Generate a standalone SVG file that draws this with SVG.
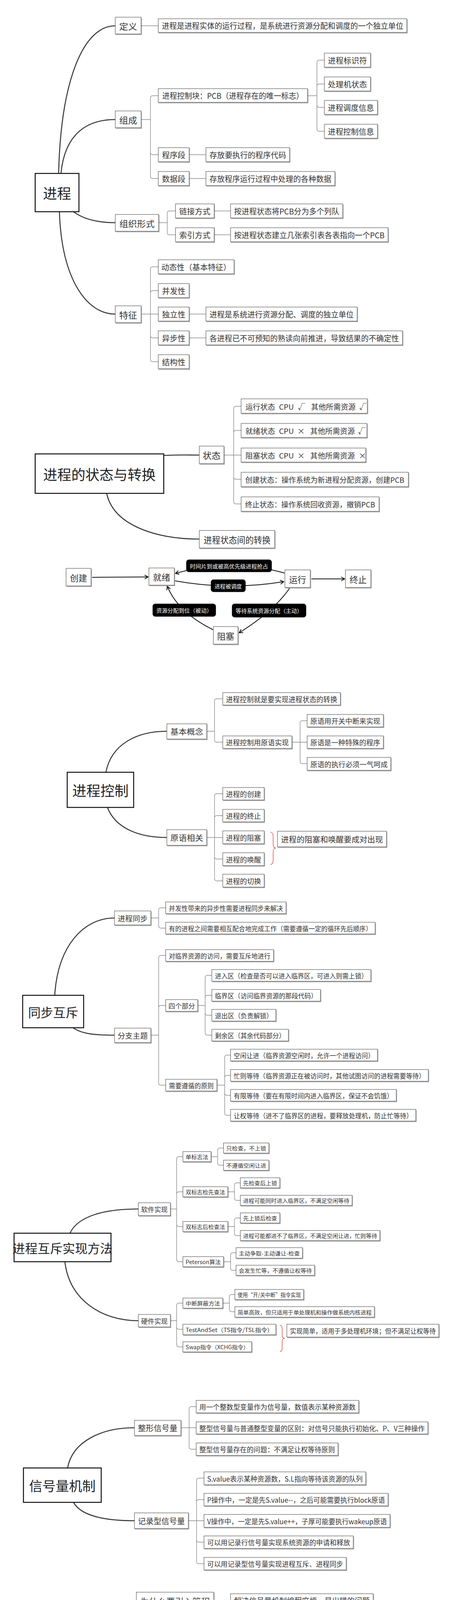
<svg xmlns="http://www.w3.org/2000/svg" width="1172" height="6309" viewBox="0 0 1172 6309">
<defs>
<style>
text{font-family:"Noto Sans CJK SC","Noto Sans",sans-serif;fill:#333;text-anchor:middle;dominant-baseline:central}
.n rect{fill:#fff;stroke:#4a4a4a;stroke-width:1.1;filter:url(#sh)}
.r rect{fill:#fff;stroke:#111;stroke-width:2.5}
.r text{fill:#222}
.lb rect{fill:#000;stroke:#000}
.lb text{fill:#fff}
.st{text-anchor:start}
.main{fill:none;stroke:#3a3a3a;stroke-width:2.6;stroke-linecap:round}
.sub{fill:none;stroke:#8c8c8c;stroke-width:1.4}
.arr{fill:none;stroke:#111;stroke-width:2;marker-end:url(#ah)}
.brace{fill:none;stroke:#d22;stroke-width:1.2}
.f14{font-size:14px}.f16{font-size:16px}.f17{font-size:17px}.f18{font-size:18px}.f19{font-size:19px}.f20{font-size:20px}.f22{font-size:22px}.f23{font-size:23px}.f30{font-size:30px}.f32{font-size:32px}.f34{font-size:34px}.f36{font-size:36px}
</style>
<filter id="sh" x="-5%" y="-10%" width="115%" height="140%"><feDropShadow dx="1.5" dy="2" stdDeviation="0.6" flood-color="#777" flood-opacity="0.6"/></filter>
<marker id="ah" markerWidth="12" markerHeight="12" refX="10" refY="6" orient="auto" markerUnits="userSpaceOnUse"><path d="M1,1 L10,6 L1,11" fill="none" stroke="#111" stroke-width="2"/></marker>
</defs>
<rect width="1172" height="6309" fill="#fff"/>

<g id="connectors">
<path class="main" d="M150,444C156,200 215,66 295,66"/>
<path class="main" d="M156,444C166,340 225,306 295,306"/>
<path class="main" d="M188,542C215,562 250,570 295,570"/>
<path class="main" d="M152,542C158,720 225,805 295,804"/>
<path class="sub" d="M361,66H405"/>
<path class="sub" d="M361,306H385 M385,306V251Q385,245 391,245H405 M385,306V390Q385,396 391,396H405 M385,306V451Q385,457 391,457H405"/>
<path class="sub" d="M787,245H811 M811,245V160Q811,154 817,154H830 M811,245V221Q811,215 817,215H830 M811,245V269Q811,275 817,275H830 M811,245V330Q811,336 817,336H830"/>
<path class="sub" d="M484,396H527 M484,457H527"/>
<path class="sub" d="M406,570H428 M428,570V546Q428,540 434,540H449 M428,570V595Q428,601 434,601H449 M548,540H590 M548,601H590"/>
<path class="sub" d="M361,804H385 M385,804V689Q385,683 391,683H405 M385,804V750Q385,744 391,744H405 M385,804H405 M385,804V859Q385,865 391,865H405 M385,804V920Q385,926 391,926H405 M484,804H527 M484,865H527"/>

<path class="main" d="M419,1166C460,1164 480,1165 510,1165"/>
<path class="main" d="M273,1263C290,1345 400,1380 510,1380"/>
<path class="sub" d="M573,1165H617 M598,1165V1046Q598,1040 604,1040H617 M598,1165V1108Q598,1102 604,1102H617 M598,1165V1221Q598,1227 604,1227H617 M598,1165V1284Q598,1290 604,1290H617"/>

<path class="arr" d="M236,1478 L379,1477"/>
<path class="arr" d="M797,1482 L882,1482"/>
<path class="arr" d="M728,1467 Q588,1428 449,1468"/>
<path class="arr" d="M448,1487 Q588,1512 726,1489"/>
<path class="arr" d="M741,1506 Q700,1565 612,1620"/>
<path class="arr" d="M545,1612 Q456,1568 428,1501"/>

<path class="main" d="M271,1977C285,1905 350,1872 427,1872"/>
<path class="main" d="M275,2067C295,2120 355,2144 427,2144"/>
<path class="sub" d="M529,1872H549 M549,1872V1795Q549,1789 555,1789H570 M549,1872V1894Q549,1900 555,1900H570"/>
<path class="sub" d="M747,1900H786 M768,1900V1851Q768,1845 774,1845H786 M768,1900V1949Q768,1955 774,1955H786"/>
<path class="sub" d="M529,2144H570 M549,2144V2038Q549,2032 555,2032H570 M549,2144V2094Q549,2088 555,2088H570 M549,2144V2193Q549,2199 555,2199H570 M549,2144V2249Q549,2255 555,2255H570"/>
<path class="brace" d="M692,2130 Q699,2131 699,2142 V2161 Q699,2171 706,2171 Q699,2171 699,2181 V2202 Q699,2213 692,2213"/>

<path class="main" d="M140,2548C148,2420 215,2350 293,2350"/>
<path class="main" d="M187,2631C210,2648 250,2650 293,2650"/>
<path class="sub" d="M386,2350H406 M406,2350V2330Q406,2324 412,2324H424 M406,2350V2370Q406,2376 412,2376H424"/>
<path class="sub" d="M386,2650H406 M406,2650V2452Q406,2446 412,2446H424 M406,2650V2580Q406,2574 412,2574H424 M406,2650V2772Q406,2778 412,2778H424"/>
<path class="sub" d="M506,2574H525 M525,2574V2503Q525,2497 531,2497H542 M525,2574V2554Q525,2548 531,2548H542 M525,2574V2593Q525,2599 531,2599H542 M525,2574V2644Q525,2650 531,2650H542"/>
<path class="sub" d="M555,2778H575 M575,2778V2707Q575,2701 581,2701H590 M575,2778V2759Q575,2753 581,2753H590 M575,2778V2798Q575,2804 581,2804H590 M575,2778V2849Q575,2855 581,2855H590"/>

<path class="main" d="M179,3157C200,3112 270,3095 354,3095"/>
<path class="main" d="M166,3230C178,3330 262,3381 354,3381"/>
<path class="sub" d="M436,3095H452 M452,3095V2967Q452,2961 458,2961H468 M452,3095V3057Q452,3051 458,3051H468 M452,3095V3134Q452,3140 458,3140H468 M452,3095V3224Q452,3230 458,3230H468"/>
<path class="sub" d="M540,2961H557 M557,2961V2945Q557,2939 563,2939H572 M557,2961V2977Q557,2983 563,2983H572"/>
<path class="sub" d="M583,3051H600 M600,3051V3034Q600,3028 606,3028H615 M600,3051V3067Q600,3073 606,3073H615"/>
<path class="sub" d="M583,3140H600 M600,3140V3124Q600,3118 606,3118H615 M600,3140V3157Q600,3163 606,3163H615"/>
<path class="sub" d="M572,3230H590 M590,3230V3213Q590,3207 596,3207H604 M590,3230V3246Q590,3252 596,3252H604"/>
<path class="sub" d="M436,3381H452 M452,3381V3342Q452,3336 458,3336H468 M452,3381V3397Q452,3403 458,3403H468 M452,3381V3442Q452,3448 458,3448H468"/>
<path class="sub" d="M570,3336H587 M587,3336V3320Q587,3314 593,3314H601 M587,3336V3352Q587,3358 593,3358H601"/>
<path class="brace" d="M716,3392 Q722,3393 722,3402 V3418 Q722,3426 729,3426 Q722,3426 722,3434 V3451 Q722,3460 716,3460"/>

<path class="main" d="M173,3758C185,3690 260,3655 344,3655"/>
<path class="main" d="M188,3846C210,3885 280,3893 344,3893"/>
<path class="sub" d="M463,3655H502 M484,3655V3607Q484,3601 490,3601H502 M484,3655V3704Q484,3710 490,3710H502"/>
<path class="sub" d="M482,3893H522 M503,3893V3790Q503,3784 509,3784H522 M503,3893V3845Q503,3839 509,3839H522 M503,3893V3942Q503,3948 509,3948H522 M503,3893V3997Q503,4003 509,4003H522"/>

<path class="main" d="M208,4293C214,4165 270,4097 349,4097"/>
<path class="main" d="M228,4293C250,4255 300,4245 350,4245"/>
<path class="main" d="M241,4391C270,4412 310,4418 350,4418"/>
<path class="main" d="M208,4391C220,4500 280,4560 350,4560"/>
<path class="sub" d="M547,4097H590"/>
<path class="sub" d="M415,4245H458 M437,4245V4191Q437,4185 443,4185H458 M437,4245V4299Q437,4305 443,4305H458"/>
<path class="sub" d="M457,4418H482 M482,4418V4394Q482,4388 488,4388H502 M482,4418V4442Q482,4448 488,4448H502"/>
<path class="sub" d="M415,4560H437 M437,4560V4536Q437,4530 443,4530H458 M437,4560V4584Q437,4590 443,4590H458"/>

<path class="main" d="M159,4961C168,4820 250,4752 334,4752"/>
<path class="main" d="M243,5009H334"/>
<path class="main" d="M159,5056C172,5200 260,5266 334,5266"/>
<path class="sub" d="M441,4752H463 M463,4752V4670Q463,4664 469,4664H484 M463,4752V4728Q463,4722 469,4722H484 M463,4752V4804Q463,4810 469,4810H484"/>
<path class="sub" d="M579,4810H602 M602,4810V4787Q602,4781 608,4781H620 M602,4810V4834Q602,4840 608,4840H620"/>
<path class="sub" d="M441,5009H463 M463,5009V4927Q463,4921 469,4921H484 M463,5009V4986Q463,4980 469,4980H484 M463,5009V5032Q463,5038 469,5038H484 M463,5009V5091Q463,5097 469,5097H484"/>
<path class="sub" d="M441,5266H463 M463,5266V5183Q463,5177 469,5177H484 M463,5266V5242Q463,5236 469,5236H484 M463,5266V5318Q463,5324 469,5324H484"/>
<path class="sub" d="M579,5324H602 M602,5324V5301Q602,5295 608,5295H620 M602,5324V5348Q602,5354 608,5354H620 M753,5295H794 M827,5354H868"/>

<path class="main" d="M172,5845C182,5620 280,5511 374,5511"/>
<path class="main" d="M182,5845C196,5705 285,5629 374,5629"/>
<path class="main" d="M194,5845C222,5800 300,5791 374,5791"/>
<path class="main" d="M208,5924C240,5948 300,5953 374,5953"/>
<path class="main" d="M170,5924C180,6080 280,6165 374,6165"/>
<path class="sub" d="M514,5511H549"/>
<path class="sub" d="M584,5629H620 M603,5629V5587Q603,5581 609,5581H620 M603,5629V5671Q603,5677 609,5677H620"/>
<path class="sub" d="M514,5791H549 M532,5791V5750Q532,5744 538,5744H549 M532,5791V5834Q532,5840 538,5840H549"/>
<path class="sub" d="M514,5953H549 M532,5953V5912Q532,5906 538,5906H549 M532,5953V5996Q532,6002 538,6002H549 M643,5906H676 M643,5953H676 M628,6002H661"/>
<path class="sub" d="M478,6165H497 M497,6165V6098Q497,6092 503,6092H514 M497,6165V6182Q497,6188 503,6188H514 M497,6165V6254Q497,6260 503,6260H514"/>
<path class="sub" d="M607,6092H626 M626,6092V6074Q626,6068 632,6068H641 M626,6092V6110Q626,6116 632,6116H641"/>
<path class="sub" d="M607,6188H626 M626,6188V6170Q626,6164 632,6164H641 M626,6188V6206Q626,6212 632,6212H641 M607,6260H641"/>
</g>

<!-- Section 1 -->
<g id="root1" class="r"><rect x="90" y="444" width="112" height="98"/><text x="146" y="493" class="f36">进程</text></g>
<g id="n_def" class="n"><rect x="295" y="44" width="66" height="43"/><text x="328" y="65.5" class="f22" textLength="46" lengthAdjust="spacingAndGlyphs">定义</text></g>
<g id="n_def_t" class="n"><rect x="405" y="48" width="636" height="35"/><text x="723" y="65.5" class="f20" textLength="618" lengthAdjust="spacingAndGlyphs">进程是进程实体的运行过程，是系统进行资源分配和调度的一个独立单位</text></g>
<g id="n_zc" class="n"><rect x="295" y="284" width="66" height="43"/><text x="328" y="305.5" class="f22" textLength="46" lengthAdjust="spacingAndGlyphs">组成</text></g>
<g id="n_pcb" class="n"><rect x="405" y="227" width="382" height="35"/><text x="596" y="244.5" class="f20" textLength="362" lengthAdjust="spacingAndGlyphs">进程控制块：PCB（进程存在的唯一标志）</text></g>
<g id="n_pid" class="n"><rect x="830" y="136" width="118" height="36"/><text x="889" y="154" class="f20" textLength="100" lengthAdjust="spacingAndGlyphs">进程标识符</text></g>
<g id="n_cpu" class="n"><rect x="830" y="197" width="118" height="36"/><text x="889" y="215" class="f20" textLength="100" lengthAdjust="spacingAndGlyphs">处理机状态</text></g>
<g id="n_sch" class="n"><rect x="830" y="257" width="136" height="36"/><text x="898" y="275" class="f20" textLength="118" lengthAdjust="spacingAndGlyphs">进程调度信息</text></g>
<g id="n_ctl" class="n"><rect x="830" y="318" width="136" height="36"/><text x="898" y="336" class="f20" textLength="118" lengthAdjust="spacingAndGlyphs">进程控制信息</text></g>
<g id="n_code" class="n"><rect x="405" y="378" width="79" height="36"/><text x="444.5" y="396" class="f20" textLength="60" lengthAdjust="spacingAndGlyphs">程序段</text></g>
<g id="n_code_t" class="n"><rect x="527" y="378" width="214" height="36"/><text x="634" y="396" class="f20" textLength="196" lengthAdjust="spacingAndGlyphs">存放要执行的程序代码</text></g>
<g id="n_data" class="n"><rect x="405" y="439" width="79" height="36"/><text x="444.5" y="457" class="f20" textLength="60" lengthAdjust="spacingAndGlyphs">数据段</text></g>
<g id="n_data_t" class="n"><rect x="527" y="439" width="330" height="36"/><text x="692" y="457" class="f20" textLength="312" lengthAdjust="spacingAndGlyphs">存放程序运行过程中处理的各种数据</text></g>
<g id="n_org" class="n"><rect x="295" y="549" width="111" height="43"/><text x="350.5" y="570.5" class="f22" textLength="90" lengthAdjust="spacingAndGlyphs">组织形式</text></g>
<g id="n_link" class="n"><rect x="449" y="522" width="99" height="36"/><text x="498.5" y="540" class="f20" textLength="80" lengthAdjust="spacingAndGlyphs">链接方式</text></g>
<g id="n_link_t" class="n"><rect x="590" y="522" width="287" height="36"/><text x="733.5" y="540" class="f20" textLength="269" lengthAdjust="spacingAndGlyphs">按进程状态将PCB分为多个列队</text></g>
<g id="n_idx" class="n"><rect x="449" y="583" width="99" height="36"/><text x="498.5" y="601" class="f20" textLength="80" lengthAdjust="spacingAndGlyphs">索引方式</text></g>
<g id="n_idx_t" class="n"><rect x="590" y="583" width="403" height="36"/><text x="791.5" y="601" class="f20" textLength="385" lengthAdjust="spacingAndGlyphs">按进程状态建立几张索引表各表指向一个PCB</text></g>
<g id="n_feat" class="n"><rect x="295" y="783" width="66" height="43"/><text x="328" y="804.5" class="f22" textLength="46" lengthAdjust="spacingAndGlyphs">特征</text></g>
<g id="n_dyn" class="n"><rect x="405" y="665" width="194" height="36"/><text x="502" y="683" class="f20" textLength="178" lengthAdjust="spacingAndGlyphs">动态性（基本特征）</text></g>
<g id="n_conc" class="n"><rect x="405" y="726" width="79" height="36"/><text x="444.5" y="744" class="f20" textLength="60" lengthAdjust="spacingAndGlyphs">并发性</text></g>
<g id="n_ind" class="n"><rect x="405" y="786" width="79" height="36"/><text x="444.5" y="804" class="f20" textLength="60" lengthAdjust="spacingAndGlyphs">独立性</text></g>
<g id="n_ind_t" class="n"><rect x="527" y="786" width="387" height="36"/><text x="720.5" y="804" class="f20" textLength="369" lengthAdjust="spacingAndGlyphs">进程是系统进行资源分配、调度的独立单位</text></g>
<g id="n_async" class="n"><rect x="405" y="847" width="79" height="36"/><text x="444.5" y="865" class="f20" textLength="60" lengthAdjust="spacingAndGlyphs">异步性</text></g>
<g id="n_async_t" class="n"><rect x="527" y="847" width="503" height="36"/><text x="778.5" y="865" class="f20" textLength="485" lengthAdjust="spacingAndGlyphs">各进程已不可预知的熟读向前推进，导致结果的不确定性</text></g>
<g id="n_struct" class="n"><rect x="405" y="908" width="79" height="36"/><text x="444.5" y="926" class="f20" textLength="60" lengthAdjust="spacingAndGlyphs">结构性</text></g>

<!-- Section 2 -->
<g id="root2" class="r"><rect x="90" y="1162" width="329" height="101"/><text x="254.5" y="1212.5" class="f36">进程的状态与转换</text></g>
<g id="s_state" class="n"><rect x="510" y="1142" width="63" height="45"/><text x="541.5" y="1164.5" class="f23" textLength="46" lengthAdjust="spacingAndGlyphs">状态</text></g>
<g id="s_run" class="n"><rect x="617" y="1021" width="323" height="37"/><text y="1039.5" class="f19 st"><tspan x="628">运行状态</tspan><tspan x="714">CPU</tspan><tspan x="762">√</tspan><tspan x="796">其他所需资源</tspan><tspan x="919">√</tspan></text></g>
<g id="s_ready" class="n"><rect x="617" y="1084" width="322" height="36"/><text y="1102" class="f19 st"><tspan x="628">就绪状态</tspan><tspan x="714">CPU</tspan><tspan x="761">×</tspan><tspan x="794">其他所需资源</tspan><tspan x="916">√</tspan></text></g>
<g id="s_block" class="n"><rect x="617" y="1147" width="319" height="36"/><text y="1165" class="f19 st"><tspan x="628">阻塞状态</tspan><tspan x="714">CPU</tspan><tspan x="761">×</tspan><tspan x="794">其他所需资源</tspan><tspan x="918">×</tspan></text></g>
<g id="s_new" class="n"><rect x="617" y="1209" width="428" height="37"/><text x="831" y="1227.5" class="f19" textLength="407" lengthAdjust="spacingAndGlyphs">创建状态：操作系统为新进程分配资源，创建PCB</text></g>
<g id="s_exit" class="n"><rect x="617" y="1272" width="353" height="37"/><text x="793.5" y="1290.5" class="f19" textLength="333" lengthAdjust="spacingAndGlyphs">终止状态：操作系统回收资源，撤销PCB</text></g>
<g id="s_trans" class="n"><rect x="510" y="1358" width="193" height="45"/><text x="606.5" y="1380.5" class="f23" textLength="171" lengthAdjust="spacingAndGlyphs">进程状态间的转换</text></g>
<g id="t_new" class="n"><rect x="169" y="1455" width="64" height="45"/><text x="201" y="1477.5" class="f22" textLength="44" lengthAdjust="spacingAndGlyphs">创建</text></g>
<g id="t_ready" class="n"><rect x="381" y="1454" width="65" height="44"/><text x="413.5" y="1476" class="f22" textLength="44" lengthAdjust="spacingAndGlyphs">就绪</text></g>
<g id="t_run" class="n"><rect x="729" y="1459" width="65" height="45"/><text x="761.5" y="1481.5" class="f22" textLength="44" lengthAdjust="spacingAndGlyphs">运行</text></g>
<g id="t_exit" class="n"><rect x="884" y="1459" width="65" height="45"/><text x="916.5" y="1481.5" class="f22" textLength="44" lengthAdjust="spacingAndGlyphs">终止</text></g>
<g id="t_block" class="n"><rect x="546" y="1604" width="63" height="45"/><text x="577.5" y="1626.5" class="f22" textLength="44" lengthAdjust="spacingAndGlyphs">阻塞</text></g>
<g id="l_preempt" class="lb"><rect x="477" y="1433" width="218" height="31" rx="6"/><text x="586" y="1448.5" class="f14" textLength="200" lengthAdjust="spacingAndGlyphs">时间片到或被高优先级进程抢占</text></g>
<g id="l_sched" class="lb"><rect x="540" y="1484" width="88" height="31" rx="6"/><text x="584" y="1499.5" class="f14" textLength="70" lengthAdjust="spacingAndGlyphs">进程被调度</text></g>
<g id="l_res" class="lb"><rect x="391" y="1546" width="161" height="32" rx="6"/><text x="471.5" y="1562" class="f14" textLength="143" lengthAdjust="spacingAndGlyphs">资源分配到位（被动）</text></g>
<g id="l_wait" class="lb"><rect x="594" y="1546" width="189" height="34" rx="6"/><text x="688.5" y="1563" class="f14" textLength="171" lengthAdjust="spacingAndGlyphs">等待系统资源分配（主动）</text></g>

<!-- Section 3 -->
<g id="root3" class="r"><rect x="172" y="1977" width="170" height="90"/><text x="257" y="2022" class="f36">进程控制</text></g>
<g id="c_basic" class="n"><rect x="427" y="1853" width="102" height="39"/><text x="478" y="1872.5" class="f20" textLength="84" lengthAdjust="spacingAndGlyphs">基本概念</text></g>
<g id="c_b1" class="n"><rect x="570" y="1773" width="301" height="32"/><text x="720.5" y="1789" class="f19" textLength="285" lengthAdjust="spacingAndGlyphs">进程控制就是要实现进程状态的转换</text></g>
<g id="c_b2" class="n"><rect x="570" y="1884" width="177" height="32"/><text x="658.5" y="1900" class="f18" textLength="161" lengthAdjust="spacingAndGlyphs">进程控制用原语实现</text></g>
<g id="c_p1" class="n"><rect x="786" y="1829" width="195" height="32"/><text x="883.5" y="1845" class="f18" textLength="179" lengthAdjust="spacingAndGlyphs">原语用开关中断来实现</text></g>
<g id="c_p2" class="n"><rect x="786" y="1884" width="195" height="32"/><text x="883.5" y="1900" class="f18" textLength="179" lengthAdjust="spacingAndGlyphs">原语是一种特殊的程序</text></g>
<g id="c_p3" class="n"><rect x="786" y="1939" width="214" height="33"/><text x="893" y="1955.5" class="f18" textLength="198" lengthAdjust="spacingAndGlyphs">原语的执行必须一气呵成</text></g>
<g id="c_rel" class="n"><rect x="427" y="2124" width="102" height="40"/><text x="478" y="2144" class="f20" textLength="84" lengthAdjust="spacingAndGlyphs">原语相关</text></g>
<g id="c_r1" class="n"><rect x="570" y="2016" width="106" height="32"/><text x="623" y="2032" class="f18" textLength="90" lengthAdjust="spacingAndGlyphs">进程的创建</text></g>
<g id="c_r2" class="n"><rect x="570" y="2072" width="106" height="32"/><text x="623" y="2088" class="f18" textLength="90" lengthAdjust="spacingAndGlyphs">进程的终止</text></g>
<g id="c_r3" class="n"><rect x="570" y="2127" width="106" height="33"/><text x="623" y="2143.5" class="f18" textLength="90" lengthAdjust="spacingAndGlyphs">进程的阻塞</text></g>
<g id="c_r4" class="n"><rect x="570" y="2183" width="106" height="33"/><text x="623" y="2199.5" class="f18" textLength="90" lengthAdjust="spacingAndGlyphs">进程的唤醒</text></g>
<g id="c_r5" class="n"><rect x="570" y="2238" width="106" height="33"/><text x="623" y="2254.5" class="f18" textLength="90" lengthAdjust="spacingAndGlyphs">进程的切换</text></g>
<g id="c_note" class="n"><rect x="710" y="2128" width="279" height="40"/><text x="849.5" y="2148" class="f20" textLength="261" lengthAdjust="spacingAndGlyphs">进程的阻塞和唤醒要成对出现</text></g>

<!-- Section 4 -->
<g id="root4" class="r"><rect x="58" y="2548" width="156" height="83"/><text x="136" y="2589.5" class="f32">同步互斥</text></g>
<g id="y_sync" class="n"><rect x="293" y="2332" width="93" height="36"/><text x="339.5" y="2350" class="f19" textLength="77" lengthAdjust="spacingAndGlyphs">进程同步</text></g>
<g id="y_s1" class="n"><rect x="424" y="2309" width="308" height="30"/><text x="578" y="2324" class="f17" textLength="292" lengthAdjust="spacingAndGlyphs">并发性带来的异步性需要进程同步来解决</text></g>
<g id="y_s2" class="n"><rect x="424" y="2361" width="536" height="30"/><text x="692" y="2376" class="f17" textLength="520" lengthAdjust="spacingAndGlyphs">有的进程之间需要相互配合地完成工作（需要遵循一定的循环先后顺序）</text></g>
<g id="y_br" class="n"><rect x="293" y="2632" width="93" height="37"/><text x="339.5" y="2650.5" class="f19" textLength="77" lengthAdjust="spacingAndGlyphs">分支主题</text></g>
<g id="y_m1" class="n"><rect x="424" y="2431" width="276" height="30"/><text x="562" y="2446" class="f17" textLength="260" lengthAdjust="spacingAndGlyphs">对临界资源的访问，需要互斥地进行</text></g>
<g id="y_four" class="n"><rect x="424" y="2559" width="82" height="30"/><text x="465" y="2574" class="f17" textLength="68" lengthAdjust="spacingAndGlyphs">四个部分</text></g>
<g id="y_f1" class="n"><rect x="542" y="2482" width="407" height="30"/><text x="745.5" y="2497" class="f17" textLength="391" lengthAdjust="spacingAndGlyphs">进入区（检查是否可以进入临界区，可进入则需上锁）</text></g>
<g id="y_f2" class="n"><rect x="542" y="2533" width="278" height="30"/><text x="681" y="2548" class="f17" textLength="262" lengthAdjust="spacingAndGlyphs">临界区（访问临界资源的那段代码）</text></g>
<g id="y_f3" class="n"><rect x="542" y="2584" width="164" height="30"/><text x="624" y="2599" class="f17" textLength="148" lengthAdjust="spacingAndGlyphs">退出区（负责解锁）</text></g>
<g id="y_f4" class="n"><rect x="542" y="2635" width="196" height="30"/><text x="640" y="2650" class="f17" textLength="180" lengthAdjust="spacingAndGlyphs">剩余区（其余代码部分）</text></g>
<g id="y_rule" class="n"><rect x="424" y="2763" width="131" height="30"/><text x="489.5" y="2778" class="f17" textLength="115" lengthAdjust="spacingAndGlyphs">需要遵循的原则</text></g>
<g id="y_r1" class="n"><rect x="590" y="2686" width="376" height="30"/><text x="778" y="2701" class="f17" textLength="360" lengthAdjust="spacingAndGlyphs">空闲让进（临界资源空闲时，允许一个进程访问）</text></g>
<g id="y_r2" class="n"><rect x="590" y="2738" width="506" height="30"/><text x="843" y="2753" class="f17" textLength="490" lengthAdjust="spacingAndGlyphs">忙则等待（临界资源正在被访问时，其他试图访问的进程需要等待）</text></g>
<g id="y_r3" class="n"><rect x="590" y="2789" width="424" height="30"/><text x="802" y="2804" class="f17" textLength="408" lengthAdjust="spacingAndGlyphs">有限等待（要在有限时间内进入临界区，保证不会饥饿）</text></g>
<g id="y_r4" class="n"><rect x="590" y="2840" width="474" height="30"/><text x="827" y="2855" class="f17" textLength="458" lengthAdjust="spacingAndGlyphs">让权等待（进不了临界区的进程，要释放处理机，防止忙等待）</text></g>

<!-- Section 5 -->
<g id="root5" class="r"><rect x="36" y="3157" width="248" height="73"/><text x="160" y="3193.5" class="f32">进程互斥实现方法</text></g>
<g id="m_sw" class="n"><rect x="354" y="3079" width="82" height="33"/><text x="395" y="3095.5" class="f17" textLength="68" lengthAdjust="spacingAndGlyphs">软件实现</text></g>
<g id="m_s1" class="n"><rect x="468" y="2948" width="72" height="26"/><text x="504" y="2961" class="f14" textLength="58" lengthAdjust="spacingAndGlyphs">单标志法</text></g>
<g id="m_s1a" class="n"><rect x="572" y="2926" width="116" height="26"/><text x="630" y="2939" class="f14" textLength="102" lengthAdjust="spacingAndGlyphs">只检查，不上锁</text></g>
<g id="m_s1b" class="n"><rect x="572" y="2970" width="116" height="26"/><text x="630" y="2983" class="f14" textLength="102" lengthAdjust="spacingAndGlyphs">不遵循空闲让进</text></g>
<g id="m_s2" class="n"><rect x="468" y="3038" width="115" height="26"/><text x="525.5" y="3051" class="f14" textLength="101" lengthAdjust="spacingAndGlyphs">双标志检先查法</text></g>
<g id="m_s2a" class="n"><rect x="615" y="3015" width="101" height="26"/><text x="665.5" y="3028" class="f14" textLength="87" lengthAdjust="spacingAndGlyphs">先检查后上锁</text></g>
<g id="m_s2b" class="n"><rect x="615" y="3060" width="286" height="26"/><text x="758" y="3073" class="f14" textLength="272" lengthAdjust="spacingAndGlyphs">进程可能同时进入临界区，不满足空闲等待</text></g>
<g id="m_s3" class="n"><rect x="468" y="3127" width="115" height="26"/><text x="525.5" y="3140" class="f14" textLength="101" lengthAdjust="spacingAndGlyphs">双标志后检查法</text></g>
<g id="m_s3a" class="n"><rect x="615" y="3105" width="101" height="26"/><text x="665.5" y="3118" class="f14" textLength="87" lengthAdjust="spacingAndGlyphs">先上锁后检查</text></g>
<g id="m_s3b" class="n"><rect x="615" y="3150" width="357" height="26"/><text x="793.5" y="3163" class="f14" textLength="343" lengthAdjust="spacingAndGlyphs">进程可能都进不了临界区，不满足空闲让进，忙则等待</text></g>
<g id="m_s4" class="n"><rect x="468" y="3217" width="104" height="26"/><text x="520" y="3230" class="f14" textLength="90" lengthAdjust="spacingAndGlyphs">Peterson算法</text></g>
<g id="m_s4a" class="n"><rect x="604" y="3194" width="170" height="27"/><text x="689" y="3207.5" class="f14" textLength="156" lengthAdjust="spacingAndGlyphs">主动争取-主动谦让-检查</text></g>
<g id="m_s4b" class="n"><rect x="604" y="3239" width="201" height="26"/><text x="704.5" y="3252" class="f14" textLength="187" lengthAdjust="spacingAndGlyphs">会发生忙等，不遵循让权等待</text></g>
<g id="m_hw" class="n"><rect x="354" y="3365" width="82" height="32"/><text x="395" y="3381" class="f17" textLength="68" lengthAdjust="spacingAndGlyphs">硬件实现</text></g>
<g id="m_h1" class="n"><rect x="468" y="3323" width="102" height="26"/><text x="519" y="3336" class="f14" textLength="88" lengthAdjust="spacingAndGlyphs">中断屏蔽方法</text></g>
<g id="m_h1a" class="n"><rect x="601" y="3301" width="176" height="26"/><text x="689" y="3314" class="f14" textLength="162" lengthAdjust="spacingAndGlyphs">使用“开/关中断”指令实现</text></g>
<g id="m_h1b" class="n"><rect x="601" y="3345" width="357" height="27"/><text x="779.5" y="3358.5" class="f14" textLength="343" lengthAdjust="spacingAndGlyphs">简单高效，但只适用于单处理机和操作做系统内核进程</text></g>
<g id="m_h2" class="n"><rect x="468" y="3390" width="238" height="27"/><text x="587" y="3403.5" class="f14" textLength="224" lengthAdjust="spacingAndGlyphs">TestAndSet（TS指令/TSL指令）</text></g>
<g id="m_h3" class="n"><rect x="468" y="3435" width="176" height="26"/><text x="556" y="3448" class="f14" textLength="162" lengthAdjust="spacingAndGlyphs">Swap指令（XCHG指令）</text></g>
<g id="m_note" class="n"><rect x="734" y="3390" width="389" height="33"/><text x="928.5" y="3406.5" class="f17" textLength="373" lengthAdjust="spacingAndGlyphs">实现简单，适用于多处理机环境；但不满足让权等待</text></g>

<!-- Section 6 -->
<g id="root6" class="r"><rect x="60" y="3758" width="199" height="88"/><text x="159.5" y="3802" class="f34">信号量机制</text></g>
<g id="x_int" class="n"><rect x="344" y="3636" width="119" height="39"/><text x="403.5" y="3655.5" class="f20" textLength="101" lengthAdjust="spacingAndGlyphs">整形信号量</text></g>
<g id="x_i1" class="n"><rect x="502" y="3585" width="416" height="32"/><text x="710" y="3601" class="f18" textLength="400" lengthAdjust="spacingAndGlyphs">用一个整数型变量作为信号量，数值表示某种资源数</text></g>
<g id="x_i2" class="n"><rect x="502" y="3640" width="593" height="31"/><text x="798.5" y="3655.5" class="f18" textLength="577" lengthAdjust="spacingAndGlyphs">整型信号量与普通整型变量的区别：对信号只能执行初始化、P、V三种操作</text></g>
<g id="x_i3" class="n"><rect x="502" y="3694" width="363" height="32"/><text x="683.5" y="3710" class="f18" textLength="347" lengthAdjust="spacingAndGlyphs">整型信号量存在的问题：不满足让权等待原则</text></g>
<g id="x_rec" class="n"><rect x="344" y="3873" width="138" height="40"/><text x="413" y="3893" class="f20" textLength="120" lengthAdjust="spacingAndGlyphs">记录型信号量</text></g>
<g id="x_r1" class="n"><rect x="522" y="3768" width="414" height="33"/><text x="729" y="3784.5" class="f18" textLength="398" lengthAdjust="spacingAndGlyphs">S.value表示某种资源数，S.L指向等待该资源的队列</text></g>
<g id="x_r2" class="n"><rect x="522" y="3823" width="471" height="32"/><text x="757.5" y="3839" class="f18" textLength="455" lengthAdjust="spacingAndGlyphs">P操作中，一定是先S.value--，之后可能需要执行block原语</text></g>
<g id="x_r3" class="n"><rect x="522" y="3877" width="476" height="33"/><text x="760" y="3893.5" class="f18" textLength="460" lengthAdjust="spacingAndGlyphs">V操作中，一定是先S.value++，子厚可能要执行wakeup原语</text></g>
<g id="x_r4" class="n"><rect x="522" y="3932" width="382" height="32"/><text x="713" y="3948" class="f18" textLength="366" lengthAdjust="spacingAndGlyphs">可以用记录行信号量实现系统资源的申请和释放</text></g>
<g id="x_r5" class="n"><rect x="522" y="3987" width="364" height="32"/><text x="704" y="4003" class="f18" textLength="348" lengthAdjust="spacingAndGlyphs">可以用记录型信号量实现进程互斥、进程同步</text></g>

<!-- Section 7 -->
<g id="root7" class="r"><rect x="146" y="4293" width="110" height="98"/><text x="201" y="4342" class="f36">管程</text></g>
<g id="g_why" class="n"><rect x="349" y="4076" width="198" height="43"/><text x="448" y="4097.5" class="f22" textLength="178" lengthAdjust="spacingAndGlyphs">为什么要引入管程</text></g>
<g id="g_why_t" class="n"><rect x="590" y="4080" width="365" height="35"/><text x="772.5" y="4097.5" class="f20" textLength="347" lengthAdjust="spacingAndGlyphs">解决信号量机制编程麻烦、易出错的问题</text></g>
<g id="g_comp" class="n"><rect x="350" y="4223" width="65" height="44"/><text x="382.5" y="4245" class="f22" textLength="45" lengthAdjust="spacingAndGlyphs">组成</text></g>
<g id="g_c1" class="n"><rect x="458" y="4167" width="135" height="36"/><text x="525.5" y="4185" class="f20" textLength="117" lengthAdjust="spacingAndGlyphs">共享数据结构</text></g>
<g id="g_c2" class="n"><rect x="458" y="4228" width="230" height="35"/><text x="573" y="4245.5" class="f20" textLength="212" lengthAdjust="spacingAndGlyphs">对数据结构初始化的语句</text></g>
<g id="g_c3" class="n"><rect x="458" y="4288" width="345" height="35"/><text x="630.5" y="4305.5" class="f20" textLength="327" lengthAdjust="spacingAndGlyphs">一组用来访问数据结构的过程（函数）</text></g>
<g id="g_feat" class="n"><rect x="350" y="4397" width="107" height="42"/><text x="403.5" y="4418" class="f22" textLength="87" lengthAdjust="spacingAndGlyphs">基本特征</text></g>
<g id="g_f1" class="n"><rect x="502" y="4370" width="580" height="35"/><text x="792" y="4387.5" class="f20" textLength="562" lengthAdjust="spacingAndGlyphs">各外部进程/线程只能通过管程提供的特定“入口”才能访问共享数据</text></g>
<g id="g_f2" class="n"><rect x="502" y="4430" width="422" height="35"/><text x="713" y="4447.5" class="f20" textLength="404" lengthAdjust="spacingAndGlyphs">每次仅允许一个进程在管程内执行某个内部过程</text></g>
<g id="g_sup" class="n"><rect x="350" y="4538" width="65" height="44"/><text x="382.5" y="4560" class="f22" textLength="45" lengthAdjust="spacingAndGlyphs">补充</text></g>
<g id="g_s1" class="n"><rect x="458" y="4512" width="440" height="35"/><text x="678" y="4529.5" class="f20" textLength="422" lengthAdjust="spacingAndGlyphs">各进程必须互斥访问管程的特性是由编译器实现的</text></g>
<g id="g_s2" class="n"><rect x="458" y="4572" width="508" height="35"/><text x="712" y="4589.5" class="f20" textLength="490" lengthAdjust="spacingAndGlyphs">可在管程中设置条件变量及等待/唤醒操作以解决同步问题</text></g>

<!-- Section 8 -->
<g id="root8" class="r"><rect x="64" y="4961" width="179" height="95"/><text x="153.5" y="5008.5" class="f36">进程通信</text></g>
<g id="p_shm" class="n"><rect x="334" y="4731" width="107" height="41"/><text x="387.5" y="4751.5" class="f22" textLength="87" lengthAdjust="spacingAndGlyphs">共享储存</text></g>
<g id="p_sh1" class="n"><rect x="484" y="4647" width="168" height="35"/><text x="568" y="4664.5" class="f20" textLength="150" lengthAdjust="spacingAndGlyphs">设置一个共享空间</text></g>
<g id="p_sh2" class="n"><rect x="484" y="4705" width="205" height="34"/><text x="586.5" y="4722" class="f20" textLength="187" lengthAdjust="spacingAndGlyphs">要互斥地访问共享空间</text></g>
<g id="p_sh3" class="n"><rect x="484" y="4793" width="95" height="35"/><text x="531.5" y="4810.5" class="f20" textLength="77" lengthAdjust="spacingAndGlyphs">两种方式</text></g>
<g id="p_sh3a" class="n"><rect x="620" y="4764" width="207" height="34"/><text x="723.5" y="4781" class="f20" textLength="189" lengthAdjust="spacingAndGlyphs">基于数据结构（低级）</text></g>
<g id="p_sh3b" class="n"><rect x="620" y="4823" width="226" height="34"/><text x="733" y="4840" class="f20" textLength="208" lengthAdjust="spacingAndGlyphs">基于存储区共享（高级）</text></g>
<g id="p_pipe" class="n"><rect x="334" y="4988" width="107" height="42"/><text x="387.5" y="5009" class="f22" textLength="87" lengthAdjust="spacingAndGlyphs">管道通信</text></g>
<g id="p_p1" class="n"><rect x="484" y="4904" width="430" height="34"/><text x="699" y="4921" class="f20" textLength="412" lengthAdjust="spacingAndGlyphs">设置一个特殊的共享文件（管道），即一个缓冲区</text></g>
<g id="p_p2" class="n"><rect x="484" y="4962" width="262" height="35"/><text x="615" y="4979.5" class="f20" textLength="244" lengthAdjust="spacingAndGlyphs">一个管道只能实现半双工通信</text></g>
<g id="p_p3" class="n"><rect x="484" y="5021" width="299" height="34"/><text x="633.5" y="5038" class="f20" textLength="281" lengthAdjust="spacingAndGlyphs">实现双向同时通信要建立两个管道</text></g>
<g id="p_p4" class="n"><rect x="484" y="5080" width="205" height="34"/><text x="586.5" y="5097" class="f20" textLength="187" lengthAdjust="spacingAndGlyphs">各进程要互斥访问管道</text></g>
<g id="p_msg" class="n"><rect x="334" y="5245" width="107" height="42"/><text x="387.5" y="5266" class="f22" textLength="87" lengthAdjust="spacingAndGlyphs">消息传递</text></g>
<g id="p_m1" class="n"><rect x="484" y="5160" width="308" height="35"/><text x="638" y="5177.5" class="f20" textLength="290" lengthAdjust="spacingAndGlyphs">传递结构化信息（消息头/消息体）</text></g>
<g id="p_m2" class="n"><rect x="484" y="5219" width="230" height="35"/><text x="599" y="5236.5" class="f20" textLength="212" lengthAdjust="spacingAndGlyphs">系统提供“发送/接收原语”</text></g>
<g id="p_m3" class="n"><rect x="484" y="5307" width="95" height="35"/><text x="531.5" y="5324.5" class="f20" textLength="77" lengthAdjust="spacingAndGlyphs">两种方式</text></g>
<g id="p_m3a" class="n"><rect x="620" y="5277" width="133" height="36"/><text x="686.5" y="5295" class="f20" textLength="115" lengthAdjust="spacingAndGlyphs">直接通信方式</text></g>
<g id="p_m3a_t" class="n"><rect x="794" y="5277" width="301" height="36"/><text x="944.5" y="5295" class="f20" textLength="283" lengthAdjust="spacingAndGlyphs">消息直接挂到接收方的消息队列里</text></g>
<g id="p_m3b" class="n"><rect x="620" y="5336" width="207" height="35"/><text x="723.5" y="5353.5" class="f20" textLength="189" lengthAdjust="spacingAndGlyphs">间接（信箱）通信方式</text></g>
<g id="p_m3b_t" class="n"><rect x="868" y="5336" width="246" height="35"/><text x="991" y="5353.5" class="f20" textLength="228" lengthAdjust="spacingAndGlyphs">消息先发到中间体（信箱）</text></g>

<!-- Section 9 -->
<g id="root9" class="r"><rect x="31" y="5845" width="268" height="79"/><text x="165" y="5884.5" class="f30">线程、多线程模型</text></g>
<g id="h_why" class="n"><rect x="374" y="5494" width="140" height="34"/><text x="444" y="5511" class="f18" textLength="124" lengthAdjust="spacingAndGlyphs">线程引入的原因</text></g>
<g id="h_why_t" class="n"><rect x="549" y="5497" width="456" height="28"/><text x="777" y="5511" class="f16" textLength="442" lengthAdjust="spacingAndGlyphs">线程可理解为“轻量级进程”，可增加并发度，减少并发带来的开销</text></g>
<g id="h_cmp" class="n"><rect x="374" y="5612" width="210" height="34"/><text x="479" y="5629" class="f18" textLength="194" lengthAdjust="spacingAndGlyphs">线程和传统进程机制对比</text></g>
<g id="h_c1" class="n"><rect x="620" y="5567" width="168" height="28"/><text x="704" y="5581" class="f16" textLength="154" lengthAdjust="spacingAndGlyphs">资源分配、处理机调度</text></g>
<g id="h_c2" class="n"><rect x="620" y="5615" width="62" height="29"/><text x="651" y="5629.5" class="f16" textLength="48" lengthAdjust="spacingAndGlyphs">并发性</text></g>
<g id="h_c3" class="n"><rect x="620" y="5663" width="183" height="29"/><text x="711.5" y="5677.5" class="f16" textLength="169" lengthAdjust="spacingAndGlyphs">（显示并发的）系统开销</text></g>
<g id="h_attr" class="n"><rect x="374" y="5774" width="140" height="35"/><text x="444" y="5791.5" class="f18" textLength="124" lengthAdjust="spacingAndGlyphs">线程的重要属性</text></g>
<g id="h_a1" class="n"><rect x="549" y="5729" width="353" height="29"/><text x="725.5" y="5743.5" class="f16" textLength="339" lengthAdjust="spacingAndGlyphs">线程是处理机调度的单位，进程是资源分配的单位</text></g>
<g id="h_a2" class="n"><rect x="549" y="5777" width="277" height="29"/><text x="687.5" y="5791.5" class="f16" textLength="263" lengthAdjust="spacingAndGlyphs">同一进程的各线程共享进程拥有的进程</text></g>
<g id="h_a3" class="n"><rect x="549" y="5826" width="308" height="28"/><text x="703" y="5840" class="f16" textLength="294" lengthAdjust="spacingAndGlyphs">同一进程内的线程切换不会导致线程的切换</text></g>
<g id="h_impl" class="n"><rect x="374" y="5936" width="140" height="35"/><text x="444" y="5953.5" class="f18" textLength="124" lengthAdjust="spacingAndGlyphs">线程是实现方式</text></g>
<g id="h_i1" class="n"><rect x="549" y="5892" width="94" height="28"/><text x="596" y="5906" class="f16" textLength="80" lengthAdjust="spacingAndGlyphs">用户级线程</text></g>
<g id="h_i1t" class="n"><rect x="676" y="5892" width="155" height="28"/><text x="753.5" y="5906" class="f16" textLength="141" lengthAdjust="spacingAndGlyphs">从用户视角看的线程</text></g>
<g id="h_i2" class="n"><rect x="549" y="5940" width="94" height="27"/><text x="596" y="5953.5" class="f16" textLength="80" lengthAdjust="spacingAndGlyphs">内核级线程</text></g>
<g id="h_i2t" class="n"><rect x="676" y="5940" width="445" height="27"/><text x="898.5" y="5953.5" class="f16" textLength="431" lengthAdjust="spacingAndGlyphs">从操作系统视角看的进程（内核级线程才是处理机分配的单位）</text></g>
<g id="h_i3" class="n"><rect x="549" y="5988" width="79" height="28"/><text x="588.5" y="6002" class="f16" textLength="65" lengthAdjust="spacingAndGlyphs">组合方式</text></g>
<g id="h_i3t" class="n"><rect x="661" y="5988" width="139" height="28"/><text x="730.5" y="6002" class="f16" textLength="125" lengthAdjust="spacingAndGlyphs">上两种方式的组合</text></g>
<g id="h_mt" class="n"><rect x="374" y="6148" width="104" height="34"/><text x="426" y="6165" class="f18" textLength="88" lengthAdjust="spacingAndGlyphs">多线程模型</text></g>
<g id="h_m1" class="n"><rect x="514" y="6078" width="93" height="28"/><text x="560.5" y="6092" class="f16" textLength="79" lengthAdjust="spacingAndGlyphs">多对一模型</text></g>
<g id="h_m1a" class="n"><rect x="641" y="6054" width="201" height="28"/><text x="741.5" y="6068" class="f16" textLength="187" lengthAdjust="spacingAndGlyphs">优：进程管理开销小效率高</text></g>
<g id="h_m1b" class="n"><rect x="641" y="6102" width="415" height="28"/><text x="848.5" y="6116" class="f16" textLength="401" lengthAdjust="spacingAndGlyphs">劣：一个进程的阻塞会导致整个进程都被阻塞（并发度低）</text></g>
<g id="h_m2" class="n"><rect x="514" y="6174" width="93" height="28"/><text x="560.5" y="6188" class="f16" textLength="79" lengthAdjust="spacingAndGlyphs">一对一模型</text></g>
<g id="h_m2a" class="n"><rect x="641" y="6150" width="400" height="29"/><text x="841" y="6164.5" class="f16" textLength="386" lengthAdjust="spacingAndGlyphs">优：各个线程可分配到多核处理机并行执行，并发效率高</text></g>
<g id="h_m2b" class="n"><rect x="641" y="6198" width="153" height="29"/><text x="717.5" y="6212.5" class="f16" textLength="139" lengthAdjust="spacingAndGlyphs">劣：进程管理开销大</text></g>
<g id="h_m3" class="n"><rect x="514" y="6246" width="93" height="29"/><text x="560.5" y="6260.5" class="f16" textLength="79" lengthAdjust="spacingAndGlyphs">多对多模型</text></g>
<g id="h_m3a" class="n"><rect x="641" y="6246" width="109" height="29"/><text x="695.5" y="6260.5" class="f16" textLength="95" lengthAdjust="spacingAndGlyphs">集前两者之长</text></g>
</svg>
